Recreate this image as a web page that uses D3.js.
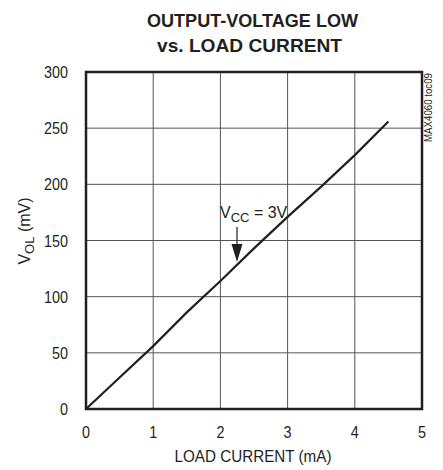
<!DOCTYPE html>
<html>
<head>
<meta charset="utf-8">
<script src="https://cdn.jsdelivr.net/npm/d3@7"></script>
<style>
  body { margin: 0; background: #fff; }
  svg text { font-family: "Liberation Sans", Arial, sans-serif; fill: #231f20; }
  .title { font-weight: bold; font-size: 19px; }
  .tick-label { font-size: 17px; }
  .axis-title { font-size: 16px; }
  .grid line { stroke: #555; stroke-width: 1; }
  .frame { fill: none; stroke: #231f20; stroke-width: 2.5; }
  .curve { fill: none; stroke: #231f20; stroke-width: 2.2; }
</style>
</head>
<body>
<svg id="chart" width="443" height="470"></svg>
<script>
// data
var loadCurrent = [0, 0.5, 1, 1.5, 2, 2.5, 3, 3.5, 4, 4.5];
var vol = [0, 28, 56, 86, 114, 143, 171, 198, 226, 256];
var xTicks = [0, 1, 2, 3, 4, 5];
var yTicks = [0, 50, 100, 150, 200, 250, 300];

var svg = d3.select("#chart");
var plotLeft = 86, plotRight = 422, plotTop = 72, plotBottom = 409;

var x = d3.scaleLinear().domain([0, 5]).range([plotLeft, plotRight]);
var y = d3.scaleLinear().domain([0, 300]).range([plotBottom, plotTop]);

// narrow look of the original type: squeeze text to a given width
function squeeze(sel, width) {
    sel.attr("textLength", width).attr("lengthAdjust", "spacingAndGlyphs");
}

// title
svg.append("text").attr("class", "title").attr("x", 252.5).attr("y", 27)
    .attr("text-anchor", "middle").text("OUTPUT-VOLTAGE LOW").call(squeeze, 211);
svg.append("text").attr("class", "title").attr("x", 249.5).attr("y", 52)
    .attr("text-anchor", "middle").text("vs. LOAD CURRENT").call(squeeze, 185);

// grid
var grid = svg.append("g").attr("class", "grid");
grid.selectAll("line.v").data(xTicks.slice(1, -1)).enter().append("line")
    .attr("x1", function (d) { return x(d); }).attr("x2", function (d) { return x(d); })
    .attr("y1", plotTop).attr("y2", plotBottom);
grid.selectAll("line.h").data(yTicks.slice(1, -1)).enter().append("line")
    .attr("y1", function (d) { return y(d); }).attr("y2", function (d) { return y(d); })
    .attr("x1", plotLeft).attr("x2", plotRight);

// curve
var line = d3.line()
    .x(function (d, i) { return x(loadCurrent[i]); })
    .y(function (d) { return y(d); });
svg.append("path").attr("class", "curve").attr("d", line(vol));

// frame
svg.append("rect").attr("class", "frame")
    .attr("x", plotLeft).attr("y", plotTop)
    .attr("width", plotRight - plotLeft).attr("height", plotBottom - plotTop);

// tick labels
svg.selectAll("text.xl").data(xTicks).enter().append("text")
    .attr("class", "tick-label").attr("x", function (d) { return x(d); }).attr("y", 438)
    .attr("text-anchor", "middle").text(function (d) { return d; })
    .each(function (d) { squeeze(d3.select(this), String(d).length * 8); });
svg.selectAll("text.yl").data(yTicks).enter().append("text")
    .attr("class", "tick-label").attr("x", 68).attr("y", function (d) { return y(d) + 6; })
    .attr("text-anchor", "end").text(function (d) { return d; })
    .each(function (d) { squeeze(d3.select(this), String(d).length * 8); });

// axis titles
svg.append("text").attr("class", "axis-title").attr("x", 253).attr("y", 462)
    .attr("text-anchor", "middle").text("LOAD CURRENT (mA)").call(squeeze, 157);
var yt = svg.append("text").attr("class", "axis-title")
    .attr("transform", "translate(30,231) rotate(-90)").attr("text-anchor", "middle");
yt.append("tspan").text("V");
yt.append("tspan").attr("dy", 4).attr("font-size", 13).text("OL");
yt.append("tspan").attr("dy", -4).text(" (mV)");

// annotation
var ann = svg.append("text").attr("class", "axis-title").attr("x", 220).attr("y", 218);
ann.append("tspan").text("V");
ann.append("tspan").attr("dy", 4).attr("font-size", 13).text("CC");
ann.append("tspan").attr("dy", -4).text(" = 3V");
svg.append("line").attr("x1", 237).attr("x2", 237).attr("y1", 227).attr("y2", 246)
    .attr("stroke", "#231f20").attr("stroke-width", 1.2);
svg.append("path").attr("d", "M231.5,244L242.5,244L237,262Z").attr("fill", "#231f20");

// side id
svg.append("text").attr("font-size", 10)
    .attr("transform", "translate(432,142) rotate(-90)").text("MAX4060 toc09").call(squeeze, 69);
</script>
</body>
</html>
